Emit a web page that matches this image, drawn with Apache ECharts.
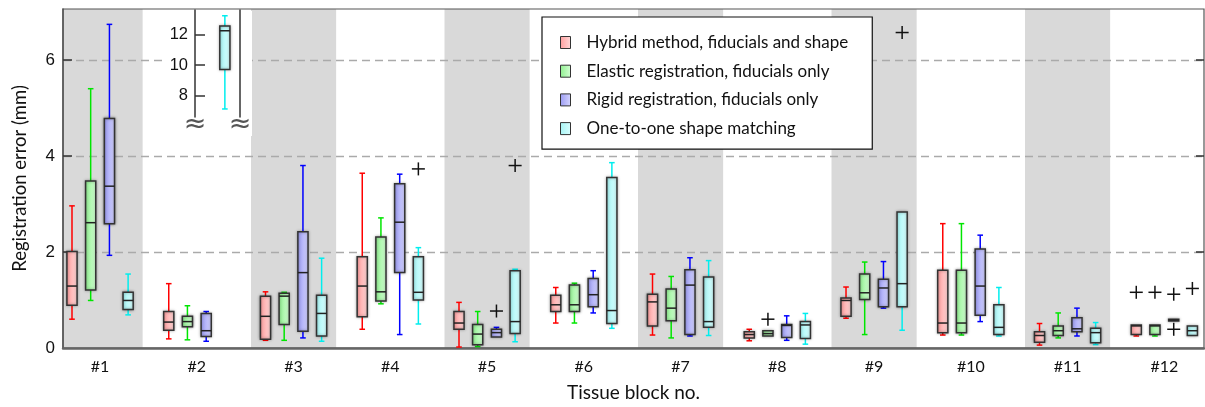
<!DOCTYPE html>
<html><head><meta charset="utf-8">
<script src="https://cdn.jsdelivr.net/npm/echarts@6/dist/echarts.min.js"></script>
<style>html,body{margin:0;padding:0;background:#fff}#c{width:1205px;height:407px}</style>
</head><body><div id="c"></div>
<script>
// ---------------- data ----------------
const blocks = ['#1','#2','#3','#4','#5','#6','#7','#8','#9','#10','#11','#12'];
const seriesNames = [
  'Hybrid method, fiducials and shape',
  'Elastic registration, fiducials only',
  'Rigid registration, fiducials only',
  'One-to-one shape matching'
];
// each entry: [lower whisker, Q1, median, Q3, upper whisker]
const hybrid = [
  [0.60,0.89,1.29,2.01,2.96],[0.19,0.37,0.54,0.76,1.34],[0.16,0.18,0.66,1.08,1.17],
  [0.39,0.65,1.29,1.90,3.64],[0.02,0.39,0.52,0.76,0.95],[0.52,0.76,0.90,1.10,1.26],
  [0.27,0.46,0.96,1.12,1.54],[0.15,0.21,0.28,0.34,0.39],[0.62,0.66,0.99,1.04,1.27],
  [0.27,0.32,0.52,1.62,2.59],[0.06,0.12,0.26,0.34,0.51],[0.25,0.28,0.46,0.48,0.48]
];
const elastic = [
  [0.99,1.21,2.61,3.48,5.40],[0.17,0.44,0.55,0.66,0.88],[0.16,0.49,1.08,1.14,1.16],
  [0.92,0.98,1.17,2.31,2.71],[0.03,0.07,0.29,0.49,0.76],[0.52,0.76,0.90,1.31,1.35],
  [0.21,0.57,0.83,1.23,1.49],[0.25,0.25,0.30,0.36,0.36],[0.28,1.01,1.15,1.54,1.79],
  [0.27,0.32,0.52,1.62,2.59],[0.21,0.26,0.36,0.46,0.73],[0.25,0.28,0.46,0.48,0.48]
];
const rigid = [
  [1.93,2.59,3.37,4.78,6.74],[0.14,0.24,0.36,0.72,0.76],[0.21,0.35,1.57,2.42,3.80],
  [0.28,1.57,2.62,3.42,3.62],[0.23,0.23,0.32,0.39,0.43],[0.73,0.86,1.11,1.45,1.61],
  [0.25,0.28,1.31,1.63,1.88],[0.16,0.22,0.47,0.49,0.67],[0.83,0.86,1.25,1.43,1.80],
  [0.55,0.68,1.29,2.06,2.35],[0.25,0.34,0.40,0.63,0.83],[0.56,0.56,0.58,0.60,0.60]
];
const shape = [
  [0.69,0.80,0.99,1.16,1.54],[7.10,9.71,12.26,12.57,13.25],[0.14,0.25,0.72,1.10,1.87],
  [0.50,1.00,1.16,1.90,2.09],[0.13,0.30,0.55,1.61,1.64],[0.41,0.51,0.78,3.55,3.86],
  [0.26,0.43,0.55,1.48,1.82],[0.08,0.20,0.48,0.55,0.72],[0.37,0.86,1.34,2.83,2.83],
  [0.25,0.28,0.43,0.90,1.26],[0.07,0.11,0.32,0.41,0.53],[0.26,0.26,0.36,0.46,0.46]
];
// outliers: [block number, value]
const hybridOutliers = [[12,1.16]];
const elasticOutliers = [[8,0.60],[12,1.16]];
const rigidOutliers = [[5,0.77],[12,1.12],[12,0.39]];
const shapeOutliers = [[4,3.73],[5,3.80],[9,6.57],[12,1.24]];
const yTicks = [0,2,4,6];
const yInnerTicks = [2,4,6];
const insetTicks = [8,10,12];
const shadedBlocks = [1,3,5,7,9,11];

// ---------------- layout / style ----------------
const X_MIN = 0.617, X_MAX = 12.41, Y_MAX = 7.06;
const INSET_Y_MIN = 6.57, INSET_Y_MAX = 13.63;
const OFFSETS = [-0.29,-0.097,0.097,0.29];
const BOX_W = 0.105, BAND_HALF = 0.44;
const GRID = {left:63, top:9, width:1141, height:341};
const INSET = {left:195, top:10, width:45, height:107};
const pxPerUnit = GRID.width/(X_MAX-X_MIN);
const insetXMin = X_MIN + (INSET.left-GRID.left)/pxPerUnit;
const insetXMax = X_MIN + (INSET.left+INSET.width-GRID.left)/pxPerUnit;

const whiskerColors = ['#ff0000','#00e600','#0000ff','#00eeee'];
const fillStops = [['#ff9d9d','#ffd9d9'],['#8ff08f','#d4ffd4'],['#9a9af2','#d6d6ff'],['#a6f4f4','#daffff']];
const grad = i => new echarts.graphic.LinearGradient(0,0,1,0,[{offset:0,color:fillStops[i][0]},{offset:1,color:fillStops[i][1]}]);

const allData = [hybrid, elastic, rigid, shape];
const allOutliers = [hybridOutliers, elasticOutliers, rigidOutliers, shapeOutliers];

function boxRender(si, main){
  return function(params, api){
    const x = api.value(0), mn = api.value(1), q1 = api.value(2), md = api.value(3), q3 = api.value(4), mx = api.value(5);
    if (main && mn > Y_MAX) return null;
    const cx = api.coord([x, md])[0];
    const hw = api.size([BOX_W, 0])[0]/2;
    const y = v => api.coord([x, v])[1];
    const col = whiskerColors[si];
    const ch = [];
    const wl = {stroke: col, lineWidth: 1.5};
    if (mx > q3 + 1e-9){
      ch.push({type:'line', shape:{x1:cx,y1:y(q3),x2:cx,y2:y(mx)}, style:wl});
      ch.push({type:'line', shape:{x1:cx-2.8,y1:y(mx),x2:cx+2.8,y2:y(mx)}, style:wl});
    }
    if (mn < q1 - 1e-9){
      ch.push({type:'line', shape:{x1:cx,y1:y(q1),x2:cx,y2:y(mn)}, style:wl});
      ch.push({type:'line', shape:{x1:cx-2.8,y1:y(mn),x2:cx+2.8,y2:y(mn)}, style:wl});
    }
    const top = y(q3), bot = y(q1);
    ch.push({type:'rect', shape:{x:cx-hw, y:top, width:2*hw, height:Math.max(bot-top,1.5)},
      style:{fill:grad(si), stroke:'#333', lineWidth:1.5, shadowBlur:3, shadowColor:'rgba(0,0,0,0.35)'}});
    ch.push({type:'line', shape:{x1:cx-hw,y1:y(md),x2:cx+hw,y2:y(md)}, style:{stroke:'#222', lineWidth:1.5}});
    return {type:'group', children: ch};
  };
}

function plusRender(params, api){
  const p = api.coord([api.value(0), api.value(1)]);
  const s = 6.5;
  return {type:'group', children:[
    {type:'line', shape:{x1:p[0]-s,y1:p[1],x2:p[0]+s,y2:p[1]}, style:{stroke:'#111', lineWidth:1.5}},
    {type:'line', shape:{x1:p[0],y1:p[1]-s,x2:p[0],y2:p[1]+s}, style:{stroke:'#111', lineWidth:1.5}}
  ]};
}

function bandRender(params, api){
  const b = api.value(0);
  const cs = params.coordSys;
  const p0 = api.coord([b-BAND_HALF, Y_MAX]);
  const p1 = api.coord([b+BAND_HALF, 0]);
  const x0 = Math.max(p0[0], cs.x), x1 = Math.min(p1[0], cs.x+cs.width);
  return {type:'rect', shape:{x:x0, y:p0[1], width:x1-x0, height:p1[1]-p0[1]}, style:{fill:'#d9d9d9'}};
}

const series = [];
series.push({type:'custom', name:'bands', xAxisIndex:0, yAxisIndex:0, z:1, silent:true,
  renderItem: bandRender, data: shadedBlocks.map(b=>[b])});
allData.forEach((arr, si) => {
  series.push({
    type:'custom', name: seriesNames[si], xAxisIndex:0, yAxisIndex:0, z:4,
    itemStyle:{color: fillStops[si][0]},
    renderItem: boxRender(si, true),
    encode:{x:0, y:[1,2,3,4,5]},
    data: arr.map((v,bi) => [bi+1+OFFSETS[si], ...v])
  });
  series.push({
    type:'custom', name: seriesNames[si] + ' outliers', xAxisIndex:0, yAxisIndex:0, z:5,
    renderItem: plusRender, encode:{x:0,y:1},
    data: allOutliers[si].map(o => [o[0]+OFFSETS[si], o[1]])
  });
});
// inset for values beyond the main axis
allData.forEach((arr, si) => {
  const items = [];
  arr.forEach((v,bi) => { if (v[0] > Y_MAX) items.push([bi+1+OFFSETS[si], ...v]); });
  if (items.length) series.push({
    type:'custom', name: seriesNames[si] + ' (inset)', xAxisIndex:1, yAxisIndex:2, z:8,
    renderItem: boxRender(si, false), encode:{x:0, y:[1,2,3,4,5]}, data: items
  });
});

const chart = echarts.init(document.getElementById('c'), null, {renderer:'canvas'});
chart.setOption({
  animation:false,
  backgroundColor:'#fff',
  grid:[
    {left:GRID.left, top:GRID.top, width:GRID.width, height:GRID.height, show:true, borderColor:'#555', borderWidth:1.2, backgroundColor:'transparent', z:3},
    {left:INSET.left, top:INSET.top, width:INSET.width, height:INSET.height, show:false, z:7}
  ],
  xAxis:[
    {gridIndex:0, type:'value', min:X_MIN, max:X_MAX, z:3,
     axisLine:{show:true, onZero:false, lineStyle:{color:'#666', width:2.5}},
     axisTick:{show:false}, splitLine:{show:false},
     axisLabel:{customValues: blocks.map((b,i)=>i+1), formatter: v => blocks[Math.round(v)-1],
       fontFamily:'Lato', fontSize:16, color:'#111', margin:11},
     name:'Tissue block no.', nameLocation:'middle', nameGap:35,
     nameTextStyle:{fontFamily:'Lato', fontSize:19, color:'#111'}},
    {gridIndex:1, type:'value', min:insetXMin, max:insetXMax, show:false}
  ],
  yAxis:[
    {gridIndex:0, type:'value', min:0, max:Y_MAX, interval:2, z:3,
     axisLine:{show:true, lineStyle:{color:'#555', width:1.5}},
     axisTick:{show:true, inside:true, length:9, customValues:yInnerTicks, lineStyle:{color:'#333', width:1.5}},
     axisLabel:{customValues:yTicks, fontFamily:'Liberation Sans', fontSize:17, color:'#111', margin:8},
     splitLine:{show:true, lineStyle:{color:'#aaa', type:[8,5], width:1.3}},
     name:'Registration error (mm)', nameLocation:'middle', nameRotate:90, nameGap:33,
     nameTextStyle:{fontFamily:'Lato', fontSize:18.5, color:'#111'}},
    {gridIndex:0, type:'value', position:'right', min:0, max:Y_MAX, z:3,
     axisLine:{show:false},
     axisTick:{show:true, inside:true, length:8, customValues:yInnerTicks, lineStyle:{color:'#333', width:1.5}},
     axisLabel:{show:false}, splitLine:{show:false}},
    {gridIndex:1, type:'value', min:INSET_Y_MIN, max:INSET_Y_MAX, z:7,
     axisLine:{show:true, lineStyle:{color:'#333', width:1.5}},
     axisTick:{show:true, inside:true, length:10, customValues:insetTicks, lineStyle:{color:'#333', width:1.5}},
     axisLabel:{customValues:insetTicks, fontFamily:'Liberation Sans', fontSize:16.5, color:'#111', margin:7},
     splitLine:{show:false}},
    {gridIndex:1, type:'value', position:'right', min:INSET_Y_MIN, max:INSET_Y_MAX, z:7,
     axisLine:{show:true, lineStyle:{color:'#333', width:1.5}},
     axisTick:{show:false}, axisLabel:{show:false}, splitLine:{show:false}}
  ],
  legend:{
    orient:'vertical', left:542, top:17, padding:[17,24,12,18], itemGap:11.7,
    itemWidth:10, itemHeight:12, backgroundColor:'#fff', borderColor:'#111', borderWidth:1.2, borderRadius:0,
    selectedMode:false, z:9,
    textStyle:{fontFamily:'Lato', fontSize:17, color:'#111', padding:[0,0,0,11]},
    data: seriesNames.map((n,i)=>({name:n, icon:'rect', itemStyle:{color:grad(i), borderColor:'#333', borderWidth:1}}))
  },
  graphic:[
    {type:'rect', z:5, silent:true, shape:{x:165, y:11, width:87, height:125}, style:{fill:'#fff'}},
    {type:'text', z:8, silent:true, x:INSET.left, y:INSET.top+INSET.height+8, style:{text:'≈', fontSize:27, fontFamily:'DejaVu Sans', fill:'#555', align:'center', verticalAlign:'middle'}},
    {type:'text', z:8, silent:true, x:INSET.left+INSET.width, y:INSET.top+INSET.height+8, style:{text:'≈', fontSize:27, fontFamily:'DejaVu Sans', fill:'#555', align:'center', verticalAlign:'middle'}}
  ],
  series: series
});
</script></body></html>
